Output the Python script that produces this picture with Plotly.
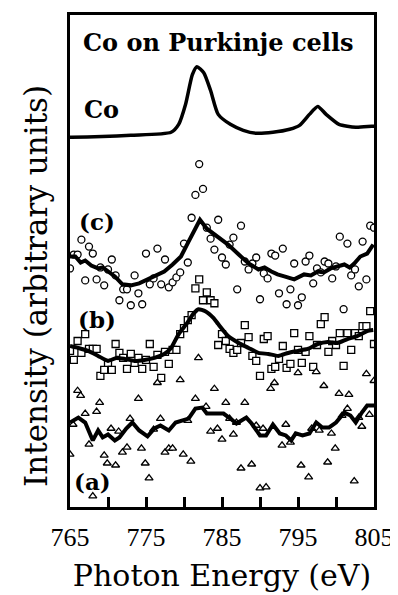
import numpy as np
import plotly.graph_objects as go

# ---------------- data ----------------
co_energy = [765.0, 765.2, 773.0, 778.3, 779.3, 780.2, 781.1, 781.7, 782.6, 783.5, 784.5, 786.1,
             787.8, 789.5, 791.7, 793.9, 795.2, 796.5, 797.6, 798.7, 800.4, 802.6, 804.7, 805.0]
co_int = [37.2, 37.2, 37.4, 37.7, 38.5, 40.5, 43.5, 44.3, 43.7, 41.9, 39.5, 38.5,
          37.9, 37.6, 37.7, 38.0, 38.4, 39.5, 40.3, 39.5, 38.5, 38.2, 38.3, 38.3]

grid_energy = list(np.round(np.arange(765.0, 805.01, 0.5), 1))

c_points = [24.0, 25.4, 25.4, 26.9, 22.8, 26.2, 25.5, 22.9, 24.1, 22.3, 23.9, 24.9, 23.3, 20.8,
            21.9, 21.9, 20.3, 23.3, 21.5, 20.4, 25.5, 22.4, 23.0, 26.0, 22.4, 24.9, 22.1, 22.6,
            23.1, 23.6, 26.5, 24.6, 29.1, 31.4, 34.5, 32.0, 28.1, 27.0, 25.9, 28.9, 25.1, 24.4,
            26.4, 27.1, 21.9, 28.3, 24.7, 23.9, 24.5, 25.1, 20.9, 23.5, 23.0, 25.5, 25.3, 21.5,
            26.0, 20.4, 21.9, 24.5, 20.3, 21.1, 24.7, 25.3, 22.5, 24.0, 23.6, 24.7, 24.5, 23.0,
            24.2, 27.2, 19.9, 26.5, 23.3, 23.9, 22.2, 26.7, 22.9, 28.3, 28.1]

b_points = [15.7, 14.8, 16.7, 15.5, 17.4, 15.9, 15.9, 15.9, 13.2, 13.8, 14.5, 13.8, 16.4, 15.5,
            15.0, 13.9, 15.4, 14.5, 15.0, 13.9, 14.8, 16.4, 14.1, 15.3, 13.0, 15.6, 14.4, 15.8,
            15.8, 17.4, 18.0, 18.8, 19.3, 22.0, 22.9, 20.8, 21.6, 20.8, 20.5, 16.3, 17.4, 16.7,
            15.9, 15.5, 15.8, 16.5, 18.3, 17.1, 15.2, 14.7, 13.2, 16.9, 17.2, 13.9, 14.1, 14.9,
            16.2, 14.0, 14.4, 17.5, 15.8, 14.5, 15.6, 17.2, 14.1, 16.3, 18.4, 19.1, 15.6, 16.7,
            16.3, 17.5, 14.2, 17.5, 15.8, 17.5, 17.2, 18.2, 18.2, 19.7, 16.4]

a_energy = [765.0, 765.4, 766.0, 766.4, 767.0, 767.5, 768.0, 768.5, 768.9, 769.5, 769.9, 770.4,
            771.0, 771.4, 771.9, 772.5, 772.9, 774.0, 774.4, 774.9, 775.4, 776.0, 776.5, 776.9,
            777.5, 778.0, 778.5, 779.5, 779.9, 780.5, 780.9, 781.5, 781.9, 782.9, 783.5, 784.0,
            784.4, 785.0, 785.5, 786.0, 786.5, 786.9, 787.5, 788.0, 788.9, 789.5, 790.0, 790.4,
            790.8, 791.4, 791.9, 792.9, 793.4, 794.0, 795.0, 795.4, 796.4, 796.8, 797.4, 797.8,
            798.4, 798.9, 799.4, 799.9, 800.4, 800.8, 801.5, 801.7, 802.4, 803.0, 803.4, 804.0,
            804.4, 805.0]
a_points = [5.3, 8.3, 11.7, 11.2, 9.4, 6.3, 1.1, 9.6, 10.5, 5.2, 4.4, 7.9,
            4.2, 7.6, 5.5, 6.0, 8.9, 10.9, 5.9, 4.4, 2.9, 7.8, 12.5, 8.9,
            5.5, 5.9, 5.9, 12.8, 5.3, 8.7, 4.6, 10.9, 15.0, 10.1, 7.6, 11.9,
            7.9, 6.8, 10.5, 8.9, 7.3, 8.5, 3.9, 10.5, 4.3, 8.2, 1.9, 7.9,
            2.0, 11.9, 12.5, 6.2, 8.3, 6.5, 13.5, 4.2, 3.0, 7.9, 13.6, 7.7,
            12.2, 4.5, 7.4, 5.9, 11.4, 9.2, 9.9, 11.3, 2.6, 9.0, 8.1, 13.4,
            9.3, 12.7]

c_fit_energy = [765.0, 765.7, 766.4, 767.0, 767.8, 768.7, 769.3, 770.0, 770.9, 771.9, 773.0, 774.1,
                775.2, 776.3, 777.4, 778.5, 779.6, 780.6, 781.5, 782.1, 783.0, 784.3, 785.2, 785.8,
                787.2, 788.5, 789.8, 790.6, 791.5, 792.3, 793.2, 794.5, 795.8, 796.7, 797.6, 798.4,
                799.3, 800.2, 801.1, 801.8, 802.4, 803.2, 804.1, 804.9]
c_fit = [25.2, 25.2, 24.6, 24.8, 24.3, 24.0, 24.1, 23.7, 23.2, 22.4, 22.3, 22.5,
         22.9, 23.4, 23.7, 24.4, 25.2, 26.7, 28.0, 28.9, 28.0, 27.2, 26.7, 26.4,
         25.4, 24.5, 23.9, 24.1, 23.7, 23.4, 23.2, 22.9, 23.4, 23.3, 23.7, 23.6,
         24.0, 24.2, 24.4, 24.1, 24.5, 25.2, 25.5, 26.4]

b_fit_energy = [765.0, 766.1, 767.4, 768.7, 770.0, 771.1, 772.2, 773.5, 774.8, 776.1, 777.4, 778.3,
                779.3, 780.4, 781.3, 781.9, 782.8, 783.9, 784.5, 785.8, 787.2, 788.5, 789.8, 791.1,
                792.4, 793.7, 795.0, 796.3, 797.6, 798.9, 800.2, 801.5, 802.8, 804.1, 804.9]
b_fit = [16.2, 16.0, 15.7, 15.2, 14.7, 15.0, 14.9, 14.7, 14.8, 15.0, 15.4, 16.0,
         17.4, 18.5, 19.5, 19.9, 19.7, 19.0, 18.4, 17.2, 16.5, 16.0, 15.5, 15.4,
         15.2, 15.5, 15.7, 15.9, 16.4, 16.6, 16.5, 16.9, 17.2, 17.7, 17.8]

a_fit_energy = [765.0, 766.1, 767.0, 768.0, 768.7, 769.3, 770.0, 770.9, 771.5, 772.4, 773.2, 774.1,
                775.2, 776.1, 776.9, 778.0, 778.9, 779.8, 780.6, 781.5, 782.4, 783.0, 784.1, 785.2,
                786.1, 786.9, 788.2, 788.9, 790.0, 790.8, 791.7, 792.6, 793.4, 794.1, 794.7, 795.6,
                796.5, 797.4, 798.2, 799.1, 800.0, 801.1, 801.9, 802.6, 803.4, 804.1, 805.0]
a_fit = [8.5, 9.0, 8.5, 6.7, 7.7, 7.0, 7.3, 6.7, 7.0, 7.9, 8.5, 7.7,
         7.1, 7.9, 8.2, 7.7, 8.5, 8.7, 8.9, 9.9, 10.0, 9.4, 9.4, 9.4,
         8.9, 8.4, 9.0, 8.4, 7.2, 7.2, 8.3, 7.4, 7.2, 6.7, 7.4, 7.2,
         7.4, 8.5, 8.0, 8.0, 8.5, 9.5, 9.2, 8.5, 9.5, 10.2, 10.2]

x_tick_vals = [765, 770, 775, 780, 785, 790, 795, 800, 805]
x_tick_text = ["765", "", "775", "", "785", "", "795", "", "805"]

# ---------------- figure ----------------
SERIF = "Liberation Serif, Times New Roman, serif"
WIDE = "DejaVu Serif, serif"
fig = go.Figure()

mk = dict(color="white", line=dict(color="black", width=1.3))

fig.add_trace(go.Scatter(x=grid_energy, y=c_points, mode="markers",
                         marker=dict(symbol="circle", size=7, **mk), showlegend=False))
fig.add_trace(go.Scatter(x=grid_energy, y=b_points, mode="markers",
                         marker=dict(symbol="square", size=7, **mk), showlegend=False))
fig.add_trace(go.Scatter(x=a_energy, y=a_points, mode="markers",
                         marker=dict(symbol="triangle-up", size=7, **mk), showlegend=False))

fig.add_trace(go.Scatter(x=co_energy, y=co_int, mode="lines", line=dict(color="black", width=3.5, shape="spline", smoothing=0.6), showlegend=False))
fig.add_trace(go.Scatter(x=c_fit_energy, y=c_fit, mode="lines", line=dict(color="black", width=4), showlegend=False))
fig.add_trace(go.Scatter(x=b_fit_energy, y=b_fit, mode="lines", line=dict(color="black", width=4, shape="spline", smoothing=0.5), showlegend=False))
fig.add_trace(go.Scatter(x=a_fit_energy, y=a_fit, mode="lines", line=dict(color="black", width=4), showlegend=False))

labels = [
    ("Co on Purkinje cells", 784.5, 46.7, "center", 24),
    ("Co", 766.6, 40.0, "left", 24),
    ("(c)", 765.9, 28.7, "left", 23),
    ("(b)", 765.8, 18.9, "left", 23),
    ("(a)", 765.2, 2.6, "left", 23),
]
for txt, x, y, anc, sz in labels:
    fig.add_annotation(x=x, y=y, xref="x", yref="y", text="<b>" + txt + "</b>", showarrow=False,
                       xanchor=anc, yanchor="middle", font=dict(family=WIDE, size=sz, color="black"))

fig.add_annotation(x=-0.114, y=0.45, xref="paper", yref="paper", text="Intensity (arbitrary units)",
                   textangle=-90, showarrow=False, xanchor="center", yanchor="middle",
                   font=dict(family=WIDE, size=31, color="black"))

fig.update_xaxes(range=[765, 805], showline=True, linewidth=3, linecolor="black", mirror=True,
                 ticks="inside", ticklen=10, tickwidth=2.5, tickcolor="black",
                 tickvals=x_tick_vals, ticktext=x_tick_text, ticklabelstandoff=5,
                 tickfont=dict(family=SERIF, size=26, color="black"),
                 showgrid=False, zeroline=False,
                 title=dict(text="Photon Energy (eV)", font=dict(family=WIDE, size=30, color="black"), standoff=14))
fig.update_yaxes(range=[0, 49.5], showline=True, linewidth=3, linecolor="black", mirror=True,
                 showticklabels=False, ticks="", showgrid=False, zeroline=False)

# page body has an 8px default margin, so the figure is sized to fit inside it
fig.update_layout(width=390, height=587, margin=dict(l=62, r=21, t=4, b=88),
                  plot_bgcolor="white", paper_bgcolor="white")

fig.write_html("out.html")
